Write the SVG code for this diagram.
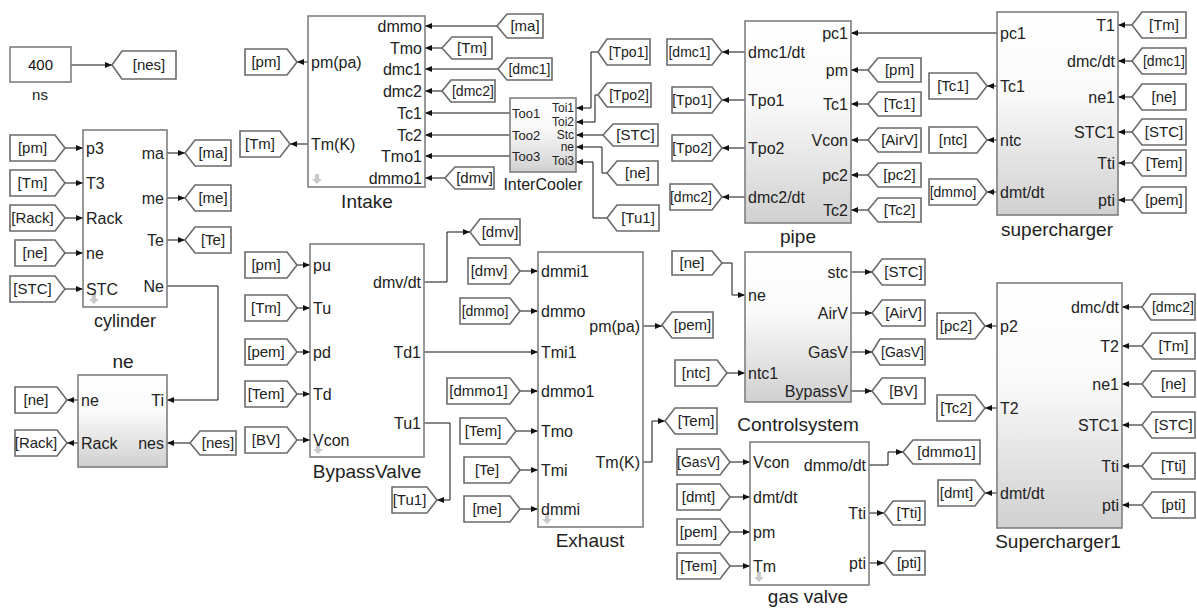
<svg xmlns="http://www.w3.org/2000/svg" width="1197" height="609" viewBox="0 0 1197 609">
<style>
.blk{fill:#fff;stroke:#7f7f7f;stroke-width:1.6}
.gb{fill:url(#g);stroke:#7f7f7f;stroke-width:1.6}
.tag{fill:#fff;stroke:#6a6a6a;stroke-width:1.6}
.w{fill:none;stroke:#111;stroke-width:1;marker-end:url(#a)}
text{font-family:"Liberation Sans",Arial,sans-serif;fill:#222}
.pl{font-size:16px}
.pr{font-size:16px;text-anchor:end}
.tt{font-size:15px;text-anchor:middle}
.ts{font-size:14px}
.ti{font-size:19px;text-anchor:middle}
.sl{font-size:13px}
.sr{font-size:12px;text-anchor:end}
.ic{fill:#c9c9c9}
</style>
<defs>
<linearGradient id="g" x1="0" y1="0" x2="0" y2="1">
<stop offset="0" stop-color="#ffffff"/><stop offset="0.4" stop-color="#fafafa"/><stop offset="1" stop-color="#d0d0d0"/>
</linearGradient>
<marker id="a" viewBox="0 0 7 6" refX="7" refY="3" markerWidth="7" markerHeight="6" markerUnits="userSpaceOnUse" orient="auto"><path d="M0,0 L7,3 L0,6 z" fill="#111"/></marker>
<path id="dn" d="M-2,-6 h4 v5 h3 l-5,5 l-5,-5 h3 z"/>
</defs>

<g id="connectors">
<path class="w" d="M71,65 H112"/>
<path class="w" d="M308,62 H297"/>
<path class="w" d="M308,144 H290"/>
<path class="w" d="M65,148 H83"/>
<path class="w" d="M65,183 H83"/>
<path class="w" d="M65,218 H83"/>
<path class="w" d="M65,253 H83"/>
<path class="w" d="M65,289 H83"/>
<path class="w" d="M167,153 H185"/>
<path class="w" d="M167,198 H185"/>
<path class="w" d="M167,240 H185"/>
<path class="w" d="M167,286 H218 V400 H167"/>
<path class="w" d="M78,400 H67"/>
<path class="w" d="M78,443 H67"/>
<path class="w" d="M190,443 H167"/>
<path class="w" d="M297,265 H310"/>
<path class="w" d="M297,308 H310"/>
<path class="w" d="M297,352 H310"/>
<path class="w" d="M297,394 H310"/>
<path class="w" d="M297,440 H310"/>
<path class="w" d="M424,282 H447 V232 H470"/>
<path class="w" d="M424,352 H538"/>
<path class="w" d="M424,423 H450 V500 H437"/>
<path class="w" d="M520,271 H538"/>
<path class="w" d="M520,311 H538"/>
<path class="w" d="M520,391 H538"/>
<path class="w" d="M516,431 H538"/>
<path class="w" d="M520,470 H538"/>
<path class="w" d="M520,509 H538"/>
<path class="w" d="M643,326 H662"/>
<path class="w" d="M643,462 H652 V421 H665"/>
<path class="w" d="M497,26 H425"/>
<path class="w" d="M442,48 H425"/>
<path class="w" d="M498,69 H425"/>
<path class="w" d="M442,91 H425"/>
<path class="w" d="M510,113 H425"/>
<path class="w" d="M510,135 H425"/>
<path class="w" d="M510,156 H425"/>
<path class="w" d="M445,178 H425"/>
<path class="w" d="M598,52 H591 V108 H576"/>
<path class="w" d="M598,95 H595 V122 H576"/>
<path class="w" d="M603,135 H576"/>
<path class="w" d="M607,173 H602 V147 H576"/>
<path class="w" d="M607,218 H593 V162 H576"/>
<path class="w" d="M745,52 H722"/>
<path class="w" d="M745,100 H722"/>
<path class="w" d="M745,148 H722"/>
<path class="w" d="M745,197 H722"/>
<path class="w" d="M997,33 H851"/>
<path class="w" d="M868,70 H851"/>
<path class="w" d="M868,104 H851"/>
<path class="w" d="M868,140 H851"/>
<path class="w" d="M868,175 H851"/>
<path class="w" d="M868,210 H851"/>
<path class="w" d="M997,86 H987"/>
<path class="w" d="M997,140 H987"/>
<path class="w" d="M997,192 H987"/>
<path class="w" d="M1132,25 H1118"/>
<path class="w" d="M1132,61 H1118"/>
<path class="w" d="M1132,97 H1118"/>
<path class="w" d="M1132,132 H1118"/>
<path class="w" d="M1132,163 H1118"/>
<path class="w" d="M1132,200 H1118"/>
<path class="w" d="M722,263 H732 V295 H745"/>
<path class="w" d="M727,373 H745"/>
<path class="w" d="M851,272 H872"/>
<path class="w" d="M851,313 H872"/>
<path class="w" d="M851,352 H872"/>
<path class="w" d="M851,391 H872"/>
<path class="w" d="M997,326 H985"/>
<path class="w" d="M997,408 H985"/>
<path class="w" d="M997,493 H985"/>
<path class="w" d="M1142,307 H1122"/>
<path class="w" d="M1142,346 H1122"/>
<path class="w" d="M1142,384 H1122"/>
<path class="w" d="M1142,425 H1122"/>
<path class="w" d="M1142,466 H1122"/>
<path class="w" d="M1142,505 H1122"/>
<path class="w" d="M730,462 H750"/>
<path class="w" d="M730,497 H750"/>
<path class="w" d="M730,532 H750"/>
<path class="w" d="M730,566 H750"/>
<path class="w" d="M869,465 H888 V452 H903"/>
<path class="w" d="M869,513 H884"/>
<path class="w" d="M869,563 H884"/>
</g>

<g id="ns">
<rect class="blk" x="10" y="47" width="61" height="35"/>
<text x="40.5" y="70" style="font-size:15px;text-anchor:middle;fill:#111">400</text>
<text class="ti" x="40" y="100" style="font-size:15px">ns</text>
</g>

<g id="cylinder">
<rect class="blk" x="83" y="130" width="84" height="177"/>
<use href="#dn" class="ic" x="94" y="300"/>
<text class="pl" x="86" y="153.5">p3</text>
<text class="pl" x="86" y="188.5">T3</text>
<text class="pl" x="86" y="223.5">Rack</text>
<text class="pl" x="86" y="258.5">ne</text>
<text class="pl" x="86" y="294.5">STC</text>
<text class="pr" x="164" y="158.5">ma</text>
<text class="pr" x="164" y="203.5">me</text>
<text class="pr" x="164" y="245.5">Te</text>
<text class="pr" x="164" y="291.5">Ne</text>
<text class="ti" x="125" y="327" style="font-size:18px">cylinder</text>
</g>

<g id="ne">
<rect class="gb" x="78" y="375" width="89" height="92"/>
<text class="pl" x="81" y="405.5">ne</text>
<text class="pl" x="81" y="448.5">Rack</text>
<text class="pr" x="164" y="405.5">Ti</text>
<text class="pr" x="164" y="448.5">nes</text>
<text class="ti" x="123" y="368">ne</text>
</g>

<g id="Intake">
<rect class="blk" x="308" y="16" width="117" height="171"/>
<use href="#dn" class="ic" x="317" y="180"/>
<text class="pl" x="311" y="67.5">pm(pa)</text>
<text class="pl" x="311" y="149.5">Tm(K)</text>
<text class="pr" x="422" y="31.5">dmmo</text>
<text class="pr" x="422" y="53.5">Tmo</text>
<text class="pr" x="422" y="74.5">dmc1</text>
<text class="pr" x="422" y="96.5">dmc2</text>
<text class="pr" x="422" y="118.5">Tc1</text>
<text class="pr" x="422" y="140.5">Tc2</text>
<text class="pr" x="422" y="161.5">Tmo1</text>
<text class="pr" x="422" y="183.5">dmmo1</text>
<text class="ti" x="367" y="208">Intake</text>
</g>

<g id="InterCooler">
<rect class="gb" x="510" y="98" width="66" height="74"/>
<text class="sl" x="512" y="117.5">Too1</text>
<text class="sl" x="512" y="139.5">Too2</text>
<text class="sl" x="512" y="160.5">Too3</text>
<text class="sr" x="574" y="112">Toi1</text>
<text class="sr" x="574" y="125.5">Toi2</text>
<text class="sr" x="574" y="139">Stc</text>
<text class="sr" x="574" y="151">ne</text>
<text class="sr" x="574" y="165">Toi3</text>
<text class="ti" x="543" y="190" style="font-size:16px">InterCooler</text>
</g>

<g id="pipe">
<rect class="gb" x="745" y="21" width="106" height="202"/>
<text class="pl" x="748" y="57.5">dmc1/dt</text>
<text class="pl" x="748" y="105.5">Tpo1</text>
<text class="pl" x="748" y="153.5">Tpo2</text>
<text class="pl" x="748" y="202.5">dmc2/dt</text>
<text class="pr" x="848" y="38.5">pc1</text>
<text class="pr" x="848" y="75.5">pm</text>
<text class="pr" x="848" y="109.5">Tc1</text>
<text class="pr" x="848" y="145.5">Vcon</text>
<text class="pr" x="848" y="180.5">pc2</text>
<text class="pr" x="848" y="215.5">Tc2</text>
<text class="ti" x="798" y="243">pipe</text>
</g>

<g id="supercharger">
<rect class="gb" x="997" y="12" width="121" height="203"/>
<text class="pl" x="1000" y="38.5">pc1</text>
<text class="pl" x="1000" y="91.5">Tc1</text>
<text class="pl" x="1000" y="145.5">ntc</text>
<text class="pl" x="1000" y="197.5">dmt/dt</text>
<text class="pr" x="1115" y="30.5">T1</text>
<text class="pr" x="1115" y="66.5">dmc/dt</text>
<text class="pr" x="1115" y="102.5">ne1</text>
<text class="pr" x="1115" y="137.5">STC1</text>
<text class="pr" x="1115" y="168.5">Tti</text>
<text class="pr" x="1115" y="205.5">pti</text>
<text class="ti" x="1057" y="236">supercharger</text>
</g>

<g id="BypassValve">
<rect class="blk" x="310" y="244" width="114" height="213"/>
<use href="#dn" class="ic" x="318" y="450"/>
<text class="pl" x="313" y="270.5">pu</text>
<text class="pl" x="313" y="313.5">Tu</text>
<text class="pl" x="313" y="357.5">pd</text>
<text class="pl" x="313" y="399.5">Td</text>
<text class="pl" x="313" y="445.5">Vcon</text>
<text class="pr" x="421" y="287.5">dmv/dt</text>
<text class="pr" x="421" y="357.5">Td1</text>
<text class="pr" x="421" y="428.5">Tu1</text>
<text class="ti" x="367" y="478">BypassValve</text>
</g>

<g id="Exhaust">
<rect class="blk" x="538" y="252" width="105" height="275"/>
<use href="#dn" class="ic" x="547" y="520"/>
<text class="pl" x="541" y="276.5">dmmi1</text>
<text class="pl" x="541" y="316.5">dmmo</text>
<text class="pl" x="541" y="357.5">Tmi1</text>
<text class="pl" x="541" y="396.5">dmmo1</text>
<text class="pl" x="541" y="436.5">Tmo</text>
<text class="pl" x="541" y="475.5">Tmi</text>
<text class="pl" x="541" y="514.5">dmmi</text>
<text class="pr" x="640" y="331.5">pm(pa)</text>
<text class="pr" x="640" y="467.5">Tm(K)</text>
<text class="ti" x="590" y="547">Exhaust</text>
</g>

<g id="Controlsystem">
<rect class="gb" x="745" y="252" width="106" height="150"/>
<text class="pl" x="748" y="300.5">ne</text>
<text class="pl" x="748" y="378.5">ntc1</text>
<text class="pr" x="848" y="277.5">stc</text>
<text class="pr" x="848" y="318.5">AirV</text>
<text class="pr" x="848" y="357.5">GasV</text>
<text class="pr" x="848" y="396.5">BypassV</text>
<text class="ti" x="798" y="431">Controlsystem</text>
</g>

<g id="Supercharger1">
<rect class="gb" x="997" y="283" width="125" height="245"/>
<text class="pl" x="1000" y="331.5">p2</text>
<text class="pl" x="1000" y="413.5">T2</text>
<text class="pl" x="1000" y="498.5">dmt/dt</text>
<text class="pr" x="1119" y="312.5">dmc/dt</text>
<text class="pr" x="1119" y="351.5">T2</text>
<text class="pr" x="1119" y="389.5">ne1</text>
<text class="pr" x="1119" y="430.5">STC1</text>
<text class="pr" x="1119" y="471.5">Tti</text>
<text class="pr" x="1119" y="510.5">pti</text>
<text class="ti" x="1058" y="548">Supercharger1</text>
</g>

<g id="gasvalve">
<rect class="blk" x="750" y="442" width="119" height="143"/>
<use href="#dn" class="ic" x="759" y="578"/>
<text class="pl" x="753" y="467.5">Vcon</text>
<text class="pl" x="753" y="502.5">dmt/dt</text>
<text class="pl" x="753" y="537.5">pm</text>
<text class="pl" x="753" y="571.5">Tm</text>
<text class="pr" x="866" y="470.5">dmmo/dt</text>
<text class="pr" x="866" y="518.5">Tti</text>
<text class="pr" x="866" y="568.5">pti</text>
<text class="ti" x="808" y="603">gas valve</text>
</g>

<!-- tags -->
<g id="tag-nes-1"><polygon class="tag" points="112,65 122,51 176,51 176,79 122,79"/><text class="tt" x="149" y="70">[nes]</text></g>
<g id="tag-pm-intake"><polygon class="tag" points="245,49 287,49 297,62 287,75 245,75"/><text class="tt" x="266" y="67">[pm]</text></g>
<g id="tag-Tm-intake"><polygon class="tag" points="240,131 280,131 290,144 280,157 240,157"/><text class="tt" x="260" y="149">[Tm]</text></g>

<g id="tag-pm-cyl"><polygon class="tag" points="10,135 55,135 65,148 55,161 10,161"/><text class="tt" x="32.5" y="153">[pm]</text></g>
<g id="tag-Tm-cyl"><polygon class="tag" points="10,170 55,170 65,183 55,196 10,196"/><text class="tt" x="32.5" y="188">[Tm]</text></g>
<g id="tag-Rack-cyl"><polygon class="tag" points="10,205 55,205 65,218 55,231 10,231"/><text class="tt" x="32.5" y="223">[Rack]</text></g>
<g id="tag-ne-cyl"><polygon class="tag" points="15,240 55,240 65,253 55,266 15,266"/><text class="tt" x="35" y="258">[ne]</text></g>
<g id="tag-STC-cyl"><polygon class="tag" points="10,276 55,276 65,289 55,302 10,302"/><text class="tt" x="32.5" y="294">[STC]</text></g>
<g id="tag-ma-cyl"><polygon class="tag" points="185,153 195,140 231,140 231,166 195,166"/><text class="tt" x="213" y="158">[ma]</text></g>
<g id="tag-me-cyl"><polygon class="tag" points="185,198 195,185 231,185 231,211 195,211"/><text class="tt" x="213" y="203">[me]</text></g>
<g id="tag-Te-cyl"><polygon class="tag" points="185,240 195,227 231,227 231,253 195,253"/><text class="tt" x="213" y="245">[Te]</text></g>

<g id="tag-ne-neblk"><polygon class="tag" points="15,387 57,387 67,400 57,413 15,413"/><text class="tt" x="36" y="405">[ne]</text></g>
<g id="tag-Rack-neblk"><polygon class="tag" points="15,430 57,430 67,443 57,456 15,456"/><text class="tt" x="36" y="448">[Rack]</text></g>
<g id="tag-nes-2"><polygon class="tag" points="190,443 200,431 236,431 236,455 200,455"/><text class="tt" x="218" y="448">[nes]</text></g>

<g id="tag-pm-bv"><polygon class="tag" points="245,252 287,252 297,265 287,278 245,278"/><text class="tt" x="266" y="270">[pm]</text></g>
<g id="tag-Tm-bv"><polygon class="tag" points="245,295 287,295 297,308 287,321 245,321"/><text class="tt" x="266" y="313">[Tm]</text></g>
<g id="tag-pem-bv"><polygon class="tag" points="245,339 287,339 297,352 287,365 245,365"/><text class="tt" x="266" y="357">[pem]</text></g>
<g id="tag-Tem-bv"><polygon class="tag" points="245,381 287,381 297,394 287,407 245,407"/><text class="tt" x="266" y="399">[Tem]</text></g>
<g id="tag-BV-bv"><polygon class="tag" points="245,427 287,427 297,440 287,453 245,453"/><text class="tt" x="266" y="445">[BV]</text></g>
<g id="tag-dmv-out"><polygon class="tag" points="470,232 480,219 520,219 520,245 480,245"/><text class="tt" x="500" y="237">[dmv]</text></g>
<g id="tag-Tu1-out"><polygon class="tag" points="392,487 427,487 437,500 427,513 392,513"/><text class="tt" x="409.5" y="505">[Tu1]</text></g>

<g id="tag-dmv-ex"><polygon class="tag" points="468,258 510,258 520,271 510,284 468,284"/><text class="tt" x="489" y="276">[dmv]</text></g>
<g id="tag-dmmo-ex"><polygon class="tag" points="460,298 510,298 520,311 510,324 460,324"/><text class="tt ts" x="485" y="316">[dmmo]</text></g>
<g id="tag-dmmo1-ex"><polygon class="tag" points="447,378 510,378 520,391 510,404 447,404"/><text class="tt" x="478.5" y="396">[dmmo1]</text></g>
<g id="tag-Tem-ex"><polygon class="tag" points="460,418 506,418 516,431 506,444 460,444"/><text class="tt" x="483" y="436">[Tem]</text></g>
<g id="tag-Te-ex"><polygon class="tag" points="464,457 510,457 520,470 510,483 464,483"/><text class="tt" x="487" y="475">[Te]</text></g>
<g id="tag-me-ex"><polygon class="tag" points="464,496 510,496 520,509 510,522 464,522"/><text class="tt" x="487" y="514">[me]</text></g>
<g id="tag-pem-ex"><polygon class="tag" points="662,325 672,312 713,312 713,338 672,338"/><text class="tt" x="692.5" y="330">[pem]</text></g>
<g id="tag-Tem-exout"><polygon class="tag" points="665,421 675,408 717,408 717,434 675,434"/><text class="tt" x="696" y="426">[Tem]</text></g>

<g id="tag-ma-in"><polygon class="tag" points="497,26 507,14 543,14 543,38 507,38"/><text class="tt" x="525" y="31">[ma]</text></g>
<g id="tag-Tm-in"><polygon class="tag" points="442,48 452,37 492,37 492,59 452,59"/><text class="tt" x="472" y="53">[Tm]</text></g>
<g id="tag-dmc1-in"><polygon class="tag" points="498,69 507,58 552,58 552,80 507,80"/><text class="tt ts" x="529.5" y="74">[dmc1]</text></g>
<g id="tag-dmc2-in"><polygon class="tag" points="442,91 451,80 495,80 495,102 451,102"/><text class="tt ts" x="473" y="96">[dmc2]</text></g>
<g id="tag-dmv-in"><polygon class="tag" points="445,178 455,167 494,167 494,189 455,189"/><text class="tt" x="474.5" y="183">[dmv]</text></g>

<g id="tag-Tpo1-ic"><polygon class="tag" points="598,52 607,39 650,39 650,65 607,65"/><text class="tt ts" x="628.5" y="57">[Tpo1]</text></g>
<g id="tag-Tpo2-ic"><polygon class="tag" points="598,95 607,83 651,83 651,107 607,107"/><text class="tt ts" x="629" y="100">[Tpo2]</text></g>
<g id="tag-STC-ic"><polygon class="tag" points="603,135 613,124 658,124 658,146 613,146"/><text class="tt" x="635.5" y="140">[STC]</text></g>
<g id="tag-ne-ic"><polygon class="tag" points="607,173 617,161 658,161 658,185 617,185"/><text class="tt" x="637.5" y="178">[ne]</text></g>
<g id="tag-Tu1-ic"><polygon class="tag" points="607,218 617,205 659,205 659,231 617,231"/><text class="tt" x="638" y="223">[Tu1]</text></g>

<g id="tag-dmc1-pipe"><polygon class="tag" points="667,39 712,39 722,52 712,65 667,65"/><text class="tt ts" x="689.5" y="57">[dmc1]</text></g>
<g id="tag-Tpo1-pipe"><polygon class="tag" points="672,87 712,87 722,100 712,113 672,113"/><text class="tt ts" x="692" y="105">[Tpo1]</text></g>
<g id="tag-Tpo2-pipe"><polygon class="tag" points="672,135 712,135 722,148 712,161 672,161"/><text class="tt ts" x="692" y="153">[Tpo2]</text></g>
<g id="tag-dmc2-pipe"><polygon class="tag" points="670,184 712,184 722,197 712,210 670,210"/><text class="tt ts" x="691" y="202">[dmc2]</text></g>
<g id="tag-pm-pipe"><polygon class="tag" points="868,70 878,58 921,58 921,82 878,82"/><text class="tt" x="899.5" y="75">[pm]</text></g>
<g id="tag-Tc1-pipe"><polygon class="tag" points="868,104 878,92 921,92 921,116 878,116"/><text class="tt" x="899.5" y="109">[Tc1]</text></g>
<g id="tag-AirV-pipe"><polygon class="tag" points="868,140 878,128 921,128 921,152 878,152"/><text class="tt" x="899.5" y="145">[AirV]</text></g>
<g id="tag-pc2-pipe"><polygon class="tag" points="868,175 878,163 921,163 921,187 878,187"/><text class="tt" x="899.5" y="180">[pc2]</text></g>
<g id="tag-Tc2-pipe"><polygon class="tag" points="868,210 878,198 921,198 921,222 878,222"/><text class="tt" x="899.5" y="215">[Tc2]</text></g>

<g id="tag-Tc1-sc"><polygon class="tag" points="929,73 977,73 987,86 977,99 929,99"/><text class="tt" x="953" y="91">[Tc1]</text></g>
<g id="tag-ntc-sc"><polygon class="tag" points="929,127 977,127 987,140 977,153 929,153"/><text class="tt" x="953" y="145">[ntc]</text></g>
<g id="tag-dmmo-sc"><polygon class="tag" points="929,179 977,179 987,192 977,205 929,205"/><text class="tt ts" x="953" y="197">[dmmo]</text></g>
<g id="tag-Tm-sc"><polygon class="tag" points="1132,25 1142,12 1186,12 1186,38 1142,38"/><text class="tt" x="1164" y="30">[Tm]</text></g>
<g id="tag-dmc1-sc"><polygon class="tag" points="1132,61 1142,48 1186,48 1186,74 1142,74"/><text class="tt ts" x="1164" y="66">[dmc1]</text></g>
<g id="tag-ne-sc"><polygon class="tag" points="1132,97 1142,84 1186,84 1186,110 1142,110"/><text class="tt" x="1164" y="102">[ne]</text></g>
<g id="tag-STC-sc"><polygon class="tag" points="1132,132 1142,119 1186,119 1186,145 1142,145"/><text class="tt" x="1164" y="137">[STC]</text></g>
<g id="tag-Tem-sc"><polygon class="tag" points="1132,163 1142,150 1186,150 1186,176 1142,176"/><text class="tt" x="1164" y="168">[Tem]</text></g>
<g id="tag-pem-sc"><polygon class="tag" points="1132,200 1142,187 1186,187 1186,213 1142,213"/><text class="tt" x="1164" y="205">[pem]</text></g>

<g id="tag-ne-cs"><polygon class="tag" points="672,251 712,251 722,263 712,275 672,275"/><text class="tt" x="692" y="268">[ne]</text></g>
<g id="tag-ntc-cs"><polygon class="tag" points="675,360 717,360 727,373 717,386 675,386"/><text class="tt" x="696" y="378">[ntc]</text></g>
<g id="tag-STC-cs"><polygon class="tag" points="872,272 882,259 925,259 925,285 882,285"/><text class="tt" x="903.5" y="277">[STC]</text></g>
<g id="tag-AirV-cs"><polygon class="tag" points="872,313 882,300 925,300 925,326 882,326"/><text class="tt" x="903.5" y="318">[AirV]</text></g>
<g id="tag-GasV-cs"><polygon class="tag" points="872,352 880,339 925,339 925,365 880,365"/><text class="tt ts" x="902.5" y="357">[GasV]</text></g>
<g id="tag-BV-cs"><polygon class="tag" points="872,391 882,378 925,378 925,404 882,404"/><text class="tt" x="903.5" y="396">[BV]</text></g>

<g id="tag-pc2-s1"><polygon class="tag" points="937,313 975,313 985,326 975,339 937,339"/><text class="tt" x="956" y="331">[pc2]</text></g>
<g id="tag-Tc2-s1"><polygon class="tag" points="937,395 975,395 985,408 975,421 937,421"/><text class="tt" x="956" y="413">[Tc2]</text></g>
<g id="tag-dmt-s1"><polygon class="tag" points="938,480 975,480 985,493 975,506 938,506"/><text class="tt" x="956.5" y="498">[dmt]</text></g>
<g id="tag-dmc2-s1"><polygon class="tag" points="1142,307 1151,294 1195,294 1195,320 1151,320"/><text class="tt ts" x="1173" y="312">[dmc2]</text></g>
<g id="tag-Tm-s1"><polygon class="tag" points="1142,346 1152,333 1195,333 1195,359 1152,359"/><text class="tt" x="1173.5" y="351">[Tm]</text></g>
<g id="tag-ne-s1"><polygon class="tag" points="1142,384 1152,371 1195,371 1195,397 1152,397"/><text class="tt" x="1173.5" y="389">[ne]</text></g>
<g id="tag-STC-s1"><polygon class="tag" points="1142,425 1152,412 1195,412 1195,438 1152,438"/><text class="tt" x="1173.5" y="430">[STC]</text></g>
<g id="tag-Tti-s1"><polygon class="tag" points="1142,466 1152,453 1195,453 1195,479 1152,479"/><text class="tt" x="1173.5" y="471">[Tti]</text></g>
<g id="tag-pti-s1"><polygon class="tag" points="1142,505 1152,492 1195,492 1195,518 1152,518"/><text class="tt" x="1173.5" y="510">[pti]</text></g>

<g id="tag-GasV-gv"><polygon class="tag" points="677,449 720,449 730,462 720,475 677,475"/><text class="tt ts" x="698.5" y="467">[GasV]</text></g>
<g id="tag-dmt-gv"><polygon class="tag" points="677,484 720,484 730,497 720,510 677,510"/><text class="tt" x="698.5" y="502">[dmt]</text></g>
<g id="tag-pem-gv"><polygon class="tag" points="677,519 720,519 730,532 720,545 677,545"/><text class="tt" x="698.5" y="537">[pem]</text></g>
<g id="tag-Tem-gv"><polygon class="tag" points="677,553 720,553 730,566 720,579 677,579"/><text class="tt" x="698.5" y="571">[Tem]</text></g>
<g id="tag-dmmo1-gv"><polygon class="tag" points="903,452 913,440 980,440 980,464 913,464"/><text class="tt" x="946.5" y="457">[dmmo1]</text></g>
<g id="tag-Tti-gv"><polygon class="tag" points="884,513 893,501 925,501 925,525 893,525"/><text class="tt" x="909" y="518">[Tti]</text></g>
<g id="tag-pti-gv"><polygon class="tag" points="884,563 893,551 925,551 925,575 893,575"/><text class="tt" x="909" y="568">[pti]</text></g>
</svg>
